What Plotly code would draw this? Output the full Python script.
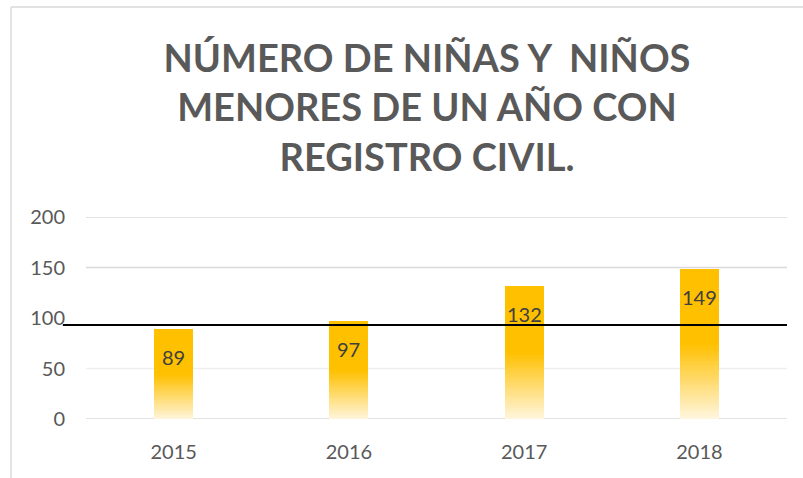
import plotly.graph_objects as go

# Registered births of children under one year, by year
years = ["2015", "2016", "2017", "2018"]
registros = [89, 97, 132, 149]

# Horizontal reference line drawn across the chart
reference_value = 93

# Axis ticks and the gridlines that are shown
y_ticks = [0, 50, 100, 150, 200]
grid_values = [0, 50, 150, 200]

TEXT_GREY = "#595959"
LABEL_GREY = "#404040"
FONT = "Lato"

# Gradient fill: solid gold on the upper half, fading to cream at the base
SOLID = (255, 192, 0)
PALE = (255, 246, 222)
SOLID_SHARE = 0.5
STEPS = 30


def blend(t):
    r, g, b = (round(p + (s - p) * t) for p, s in zip(PALE, SOLID))
    return f"rgb({r},{g},{b})"


fig = go.Figure()

fade_share = 1 - SOLID_SHARE
for i in range(STEPS):
    fig.add_trace(go.Bar(
        x=years,
        y=[v * fade_share / STEPS for v in registros],
        marker=dict(color=blend((i + 0.5) / STEPS), line=dict(width=0)),
        hoverinfo="skip",
        showlegend=False,
    ))
fig.add_trace(go.Bar(
    x=years,
    y=[v * SOLID_SHARE for v in registros],
    marker=dict(color=blend(1.0), line=dict(width=0)),
    hoverinfo="skip",
    showlegend=False,
))

# Value labels just inside the top of each bar (x given as category index)
for idx, v in enumerate(registros):
    fig.add_annotation(
        x=idx, y=v, text=str(v), showarrow=False,
        yanchor="top", yshift=-14,
        font=dict(family=FONT, size=20, color=LABEL_GREY),
    )

shapes = []
for g in grid_values:
    shapes.append(dict(
        type="line", xref="paper", yref="y", x0=0, x1=1, y0=g, y1=g,
        line=dict(color="#efefef" if g == 50 else "#d9d9d9", width=1.3),
        layer="below",
    ))
# Reference line
shapes.append(dict(
    type="line", xref="paper", yref="y", x0=-0.033, x1=1.0,
    y0=reference_value, y1=reference_value,
    line=dict(color="black", width=2), layer="above",
))
# Chart-area frame (top and left edges)
shapes.append(dict(
    type="line", xref="paper", yref="paper", x0=-0.107, x1=1.03,
    y0=2.04, y1=2.04, line=dict(color="#d9d9d9", width=1.5),
))
shapes.append(dict(
    type="line", xref="paper", yref="paper", x0=-0.107, x1=-0.107,
    y0=-0.3, y1=2.04, line=dict(color="#d9d9d9", width=1.5),
))

fig.update_layout(
    width=803, height=478,
    margin=dict(l=86, r=16, t=217, b=59),
    paper_bgcolor="white", plot_bgcolor="white",
    barmode="stack", bargap=0.777,
    shapes=shapes,
    title=dict(
        text="NÚMERO DE NIÑAS Y  NIÑOS<br>MENORES DE UN AÑO CON<br>REGISTRO CIVIL.",
        x=427 / 803, xanchor="center", xref="container",
        y=1 - 72 / 478, yanchor="top", yref="container",
        font=dict(family=FONT, size=38, color=TEXT_GREY, weight="bold"),
    ),
    xaxis=dict(
        type="category", range=[-0.5, len(years) - 0.5],
        showgrid=False, zeroline=False, showline=False,
        ticks="", ticklabelstandoff=19,
        tickfont=dict(family=FONT, size=20, color=TEXT_GREY),
    ),
    yaxis=dict(
        range=[0, 200], tickvals=y_ticks, showgrid=False, zeroline=False,
        showline=False, ticks="", ticklabelstandoff=20,
        tickfont=dict(family=FONT, size=20, color=TEXT_GREY),
    ),
)

fig.write_html("out.html")
